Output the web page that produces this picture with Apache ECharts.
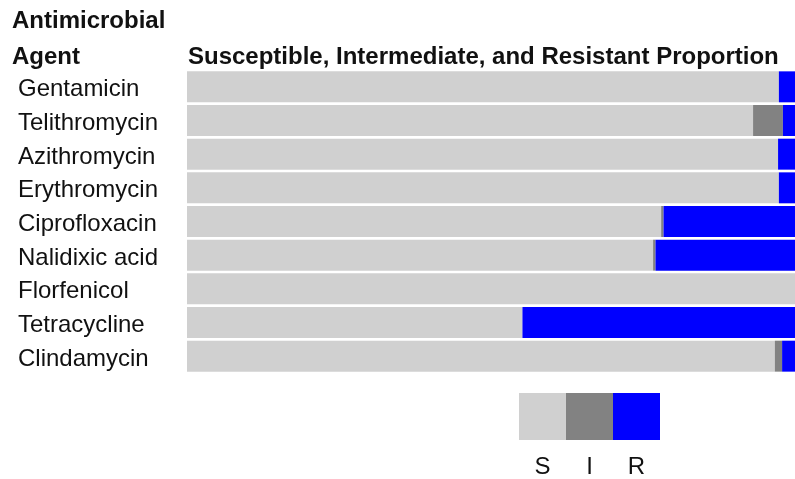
<!DOCTYPE html>
<html><head><meta charset="utf-8">
<script src="https://cdn.jsdelivr.net/npm/echarts@6/dist/echarts.min.js"></script>
<style>html,body{margin:0;padding:0;background:#fff}#c{width:795px;height:479px}</style>
</head><body><div id="c"></div>
<script>
const agents = ['Gentamicin','Telithromycin','Azithromycin','Erythromycin','Ciprofloxacin','Nalidixic acid','Florfenicol','Tetracycline','Clindamycin'];
const susceptible = [73.4, 70.2, 73.3, 73.4, 58.8, 57.8, 100, 41.6, 72.9];
const intermediate = [0, 3.7, 0, 0, 0.3, 0.3, 0, 0, 0.9];
const resistant = [26.6, 26.1, 26.7, 26.6, 40.9, 41.9, 0, 58.4, 26.2];
const legendKeys = ['S','I','R'];
const colors = ['#d0d0d0','#828282','#0000ff'];
// visible portion of the proportion axis (the figure is cropped at the right edge)
const visibleMax = 75.4;

const font = '"Liberation Sans", Arial, sans-serif';
const chart = echarts.init(document.getElementById('c'), null, {renderer:'canvas'});
const mk = (name, data, i) => ({
  name, type:'bar', stack:'t', data, barCategoryGap:'8%', clip:true,
  itemStyle:{color:colors[i]}, silent:true, animation:false
});
const lgX = 519, lgY = 393, sq = 47;
const graphics = [
  {type:'text', left:12, top:9, style:{text:'Antimicrobial', font:'bold 24px '+font, fill:'#111'}},
  {type:'text', left:12, top:45, style:{text:'Agent', font:'bold 24px '+font, fill:'#111'}},
  {type:'text', left:188, top:45, style:{text:'Susceptible, Intermediate, and Resistant Proportion', font:'bold 24px '+font, fill:'#111'}}
];
legendKeys.forEach((k,i)=>{
  graphics.push({type:'rect', shape:{x:lgX+i*sq, y:lgY, width:sq, height:sq}, style:{fill:colors[i]}});
  graphics.push({type:'text', x:lgX+i*sq+sq/2, y:467, style:{text:k, font:'24px '+font, fill:'#111', textAlign:'center', textVerticalAlign:'middle'}});
});
chart.setOption({
  animation:false,
  grid:{left:187, top:70, right:0, height:303, containLabel:false},
  xAxis:{type:'value', min:0, max:visibleMax, show:false},
  yAxis:{type:'category', data:agents, inverse:true,
    axisLine:{show:false}, axisTick:{show:false},
    axisLabel:{align:'left', verticalAlign:'top', lineHeight:6, margin:169, fontSize:24, fontFamily:font, color:'#111'}},
  series:[mk('S',susceptible,0), mk('I',intermediate,1), mk('R',resistant,2)],
  graphic:graphics
});
</script></body></html>
